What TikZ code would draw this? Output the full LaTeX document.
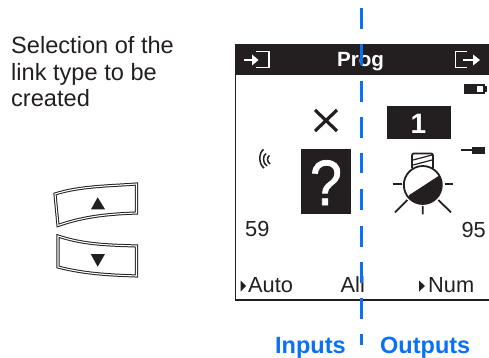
\documentclass[tikz,border=0pt]{standalone}
\usepackage{fontspec}
\setmainfont{Liberation Sans}
\newfontface\qfont[FakeBold=1.2]{Liberation Sans}
\definecolor{ink}{HTML}{231F20}
\definecolor{bluedash}{HTML}{0A70F5}
\tikzset{
 lbl/.style={font=\fontsize{21.8}{24}\selectfont,text=ink,inner sep=0pt},
 toplbl/.style={font=\fontsize{23.6}{26}\selectfont,text=ink,inner sep=0pt},
 bluelbl/.style={font=\fontsize{23.5}{26}\selectfont\bfseries,text=bluedash,inner sep=0pt},
 btn/.style={draw=ink,line width=1pt,double=white,double distance=1.1pt},
 thk/.style={draw=ink,line width=1.8pt},
 wht/.style={draw=white,line width=1.2pt},
 wave/.style={draw=ink,line width=1.5pt},
}
\begin{document}
\begin{tikzpicture}[x=1pt,y=-1pt]
\useasboundingbox (0,0) rectangle (489,358);
% panel
\draw[draw=ink,line width=1.1pt] (489,300) -- (235.5,300) -- (235.5,44);
\fill[ink] (235,44) rectangle (489,75);
% header icons
\draw[wht] (256,51.5) -- (269,51.5) -- (269,67.5) -- (256,67.5);
\draw[wht,line width=1.4pt] (244,60) -- (253,60);
\fill[white] (252,54.5) -- (258.5,60) -- (252,65.5) -- cycle;
\draw[wht] (467,51.5) -- (455.5,51.5) -- (455.5,67.5) -- (467,67.5);
\draw[wht,line width=1.4pt] (463,60) -- (474,60);
\fill[white] (473,54.5) -- (480,60) -- (473,65.5) -- cycle;
\node[font=\fontsize{20.6}{23}\selectfont\bfseries,text=white,inner sep=0pt,anchor=base] (title) at (360.5,67) {Prog};
% left text
\node[toplbl,anchor=base west] (t1) at (11,54) {Selection of the};
\node[toplbl,anchor=base west] (t2) at (11,81) {link type to be};
\node[toplbl,anchor=base west] (t3) at (11,107) {created};
% buttons
\draw[btn] (55,194) .. controls (80,186) and (110,186) .. (136.5,184) -- (136.5,213) .. controls (110,214) and (85,216) .. (58,225.5) -- cycle;
\draw[btn] (58,236) .. controls (85,245) and (110,245) .. (136.5,246) -- (136.5,276) .. controls (110,275) and (85,274) .. (58,267) -- cycle;
\fill[ink] (97.7,197.3) -- (105,209.3) -- (91,209.3) -- cycle;
\fill[ink] (97.7,266.7) -- (105,254) -- (90.7,254) -- cycle;
% X
\draw[ink,line width=3.2pt] (315,110) -- (337,131) (337,110) -- (315,131);
% question box
\fill[ink] (301,149) rectangle (351,213.5);
\node[font=\fontsize{64}{66}\qfont,text=white,inner sep=0pt,anchor=base,xscale=0.9] (q) at (326,205) {?};
% 1 box
\fill[ink] (387,106) rectangle (451,139);
\node[font=\fontsize{28}{30}\selectfont\bfseries,text=white,inner sep=0pt,anchor=base] (one) at (418.5,133.5) {1};
% wave icon
\draw[wave] (263.5,149.5) .. controls (258.5,153) and (258.5,164) .. (264,168);
\draw[wave] (266,153.5) .. controls (262.5,156) and (262.5,163) .. (267,166);
\draw[wave] (269.5,155.5) .. controls (266.8,157) and (266.8,162) .. (270,164);
% battery
\fill[ink] (463.5,84.5) rectangle (485,94.5);
\fill[ink] (485,86.5) rectangle (487,92.5);
\fill[white] (476.5,86.5) rectangle (483,92.5);
% plug
\draw[ink,line width=1.8pt] (461,150) -- (472,150);
\fill[ink] (471.7,146.7) rectangle (485,154.3);
% bulb
\draw[thk,rounded corners=2pt] (412,168) -- (412,153.5) -- (433,153.5) -- (433,168);
\draw[ink,line width=1.2pt] (413,160) -- (432,155) (413,165) -- (432,160);
\begin{scope}
\clip (422.8,185) circle[radius=19];
\fill[ink] (409.3,195) -- (440,175) -- (445,210) -- (405,210) -- cycle;
\end{scope}
\draw[thk,fill=none] (422.8,185) circle[radius=19];
\draw[thk] (392.7,184) -- (401.7,184) (445,184) -- (453.3,184);
\draw[thk] (395,212.3) -- (407.3,200) (422.7,206) -- (422.7,214.3) (438.3,200) -- (451,212.3);
% numbers
\node[lbl,anchor=base west] (n59) at (245,236) {59};
\node[lbl,anchor=base east] (n95) at (486,237) {95};
% bottom row
\fill[ink] (240.5,280.5) -- (246,286) -- (240.5,291.5) -- cycle;
\node[lbl,anchor=base west] (auto) at (248,292) {Auto};
\node[lbl,anchor=base west] (all) at (340.5,292) {All};
\fill[ink] (419,280.5) -- (425,286) -- (419,291.5) -- cycle;
\node[lbl,anchor=base west] (num) at (428,292) {Num};
% labels
\node[bluelbl,anchor=base west] (inp) at (275,353) {Inputs};
\node[bluelbl,anchor=base west] (out) at (380,353) {Outputs};
% blue dashes
\foreach \a/\b in {8/29,44/65,81/102,117/138,153/173,189/210,226/247,262/283,298/319,334/345}
  \fill[bluedash] (359.5,\a) rectangle (362.5,\b);
\end{tikzpicture}
\end{document}
